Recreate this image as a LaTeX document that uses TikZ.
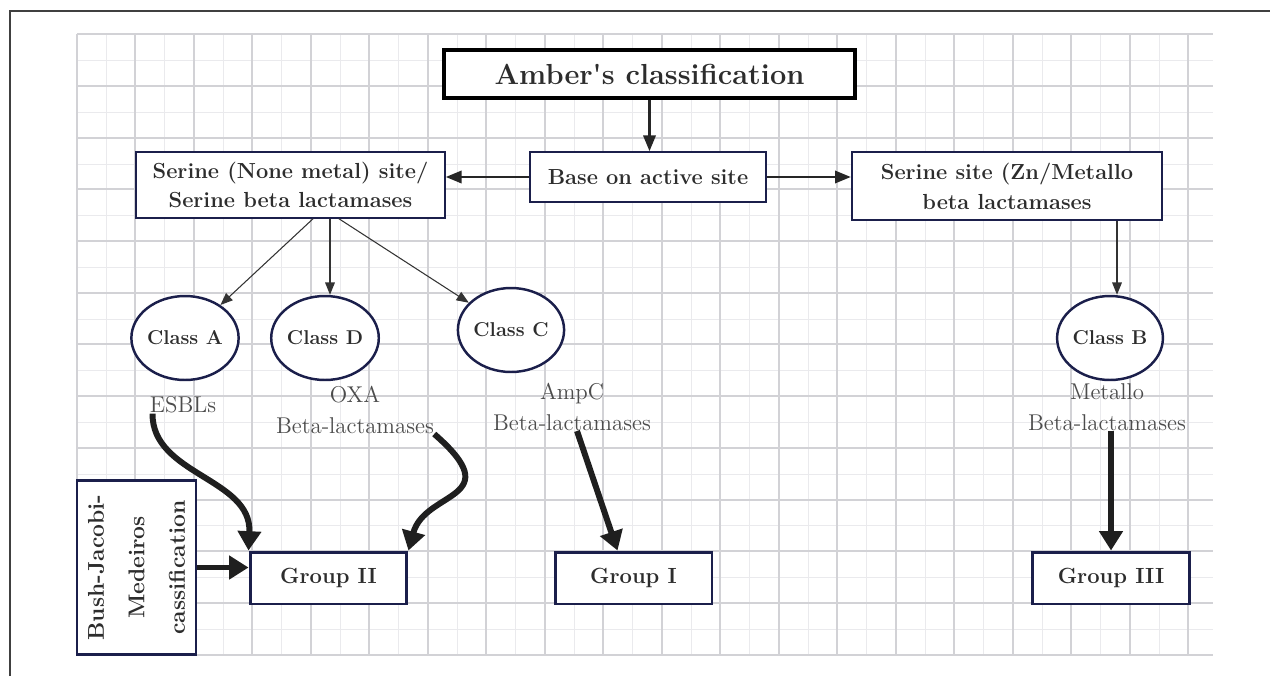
\documentclass[tikz,border=0pt]{standalone}
\usepackage{fontspec}
\usetikzlibrary{arrows.meta,shapes.geometric,calc}

\definecolor{navy}{RGB}{27,31,75}
\definecolor{gridmajor}{RGB}{210,210,214}
\definecolor{gridminor}{RGB}{234,234,237}
\definecolor{inkgray}{RGB}{45,45,45}

\begin{document}
\begin{tikzpicture}[x=0.02cm,y=-0.02cm,
  majorline/.style={draw=gridmajor,line width=0.6pt},
  minorline/.style={draw=gridminor,line width=0.55pt},
  thinbox/.style={draw=navy,line width=0.9pt,fill=white,text=inkgray,inner sep=0pt,align=center,font=\bfseries\fontsize{12.4}{17}\selectfont},
  groupbox/.style={thinbox,line width=1.7pt,minimum width=3.14cm,minimum height=1.04cm,font=\bfseries\fontsize{12.5}{15}\selectfont},
  classnode/.style={ellipse,draw=navy,line width=1.4pt,fill=white,text=inkgray,inner sep=0pt,minimum width=1.92cm,minimum height=1.68cm,font=\bfseries\fontsize{11.4}{14}\selectfont},
  typelabel/.style={text=black!70,inner sep=0pt,align=center,font=\fontsize{13}{17.5}\selectfont},
  thinarrow/.style={draw=black!80,line width=0.6pt,-{Triangle[length=7pt,width=5.5pt]}},
  midarrow/.style={draw=black!85,line width=1.4pt,-{Triangle[length=9pt,width=7pt]}},
  heavyarrow/.style={draw=black!88,line width=3.4pt,-{Triangle[length=11pt,width=13pt]}}]
\useasboundingbox (0,0) rectangle (1270,676);
\fill[white] (0,0) rectangle (1270,676);
\draw[black!75,line width=0.7pt] (10,676) -- (10,11) -- (1270,11);

% grid paper
\foreach \j in {0,...,18} \draw[minorline] ({round(105.75+58.5*\j)},34) -- ({round(105.75+58.5*\j)},655);
\foreach \j in {0,...,11} \draw[minorline] (77,{round(60.15+51.7*\j)}) -- (1213,{round(60.15+51.7*\j)});
\foreach \j in {0,...,19} \draw[majorline] ({round(76.5+58.5*\j)},34) -- ({round(76.5+58.5*\j)},655);
\foreach \j in {0,...,12} \draw[majorline] (77,{round(34.3+51.7*\j)}) -- (1213,{round(34.3+51.7*\j)});

% boxes
\node[thinbox,draw=black,line width=1.8pt,minimum width=8.22cm,minimum height=0.96cm,font=\bfseries\fontsize{16.5}{20}\selectfont] (amber) at (649.5,74) {Amber\textquotesingle s classification};
\node[thinbox,minimum width=4.72cm,minimum height=1cm] (base) at (648,177) {Base on active site};
\node[thinbox,minimum width=6.18cm,minimum height=1.32cm] (serine) at (290.5,185) {Serine (None metal) site/\\Serine beta lactamases};
\node[thinbox,line width=1.4pt,minimum width=6.2cm,minimum height=1.36cm] (metallo) at (1007,186) {Serine site (Zn/Metallo\\beta lactamases};

% classes
\node[classnode] (classA) at (185,338) {Class A};
\node[classnode] (classD) at (325,338) {Class D};
\node[classnode] (classC) at (511,330) {Class C};
\node[classnode] (classB) at (1110,338) {Class B};

\node[typelabel] (esbl) at (183,405) {ESBLs};
\node[typelabel] (oxa) at (355,410) {OXA\\Beta-lactamases};
\node[typelabel] (ampc) at (572,407) {AmpC\\Beta-lactamases};
\node[typelabel] (metal) at (1107,407) {Metallo\\Beta-lactamases};

% groups
\node[groupbox] (groupII) at (328.5,578) {Group II};
\node[groupbox] (groupI) at (633.5,578) {Group I};
\node[groupbox] (groupIII) at (1111,578) {Group III};
\node[thinbox,line width=1.2pt,rotate=90,minimum width=3.48cm,minimum height=2.38cm,font=\bfseries\fontsize{13}{23}\selectfont] (bush) at (136.5,567.5) {Bush-Jacobi-\\Medeiros\\cassification};

% connectors
\draw[midarrow] (amber.south) -- (amber.south |- base.north);
\draw[midarrow] (base.west) -- (base.west -| serine.east);
\draw[midarrow] (base.east) -- (base.east -| metallo.west);
\coordinate (fanD) at ($(serine.south)+(39.5,0)$);
\coordinate (dropB) at ($(metallo.south)+(110,0)$);
\draw[thinarrow] ($(serine.south)+(22.5,0)$) -- (classA);
\draw[thinarrow] (fanD) -- (fanD |- classD.north);
\draw[thinarrow] ($(serine.south)+(48.5,0)$) -- (classC);
\draw[thinarrow] (dropB) -- (dropB |- classB.north);

\draw[heavyarrow] ($(esbl.south west)+(3,0)$) .. controls (152,475) and (252,478) .. (groupII.north west);
\draw[heavyarrow] (oxa.south east) .. controls (510,500) and (425,490) .. (groupII.north east);
\draw[heavyarrow] ($(ampc.south)+(5,0)$) -- ($(groupI.north west)!0.4!(groupI.north east)$);
\draw[heavyarrow] (groupIII.north |- metal.south) -- (groupIII.north);
\draw[heavyarrow] (bush.south) -- (bush.south -| groupII.west);
\end{tikzpicture}
\end{document}
